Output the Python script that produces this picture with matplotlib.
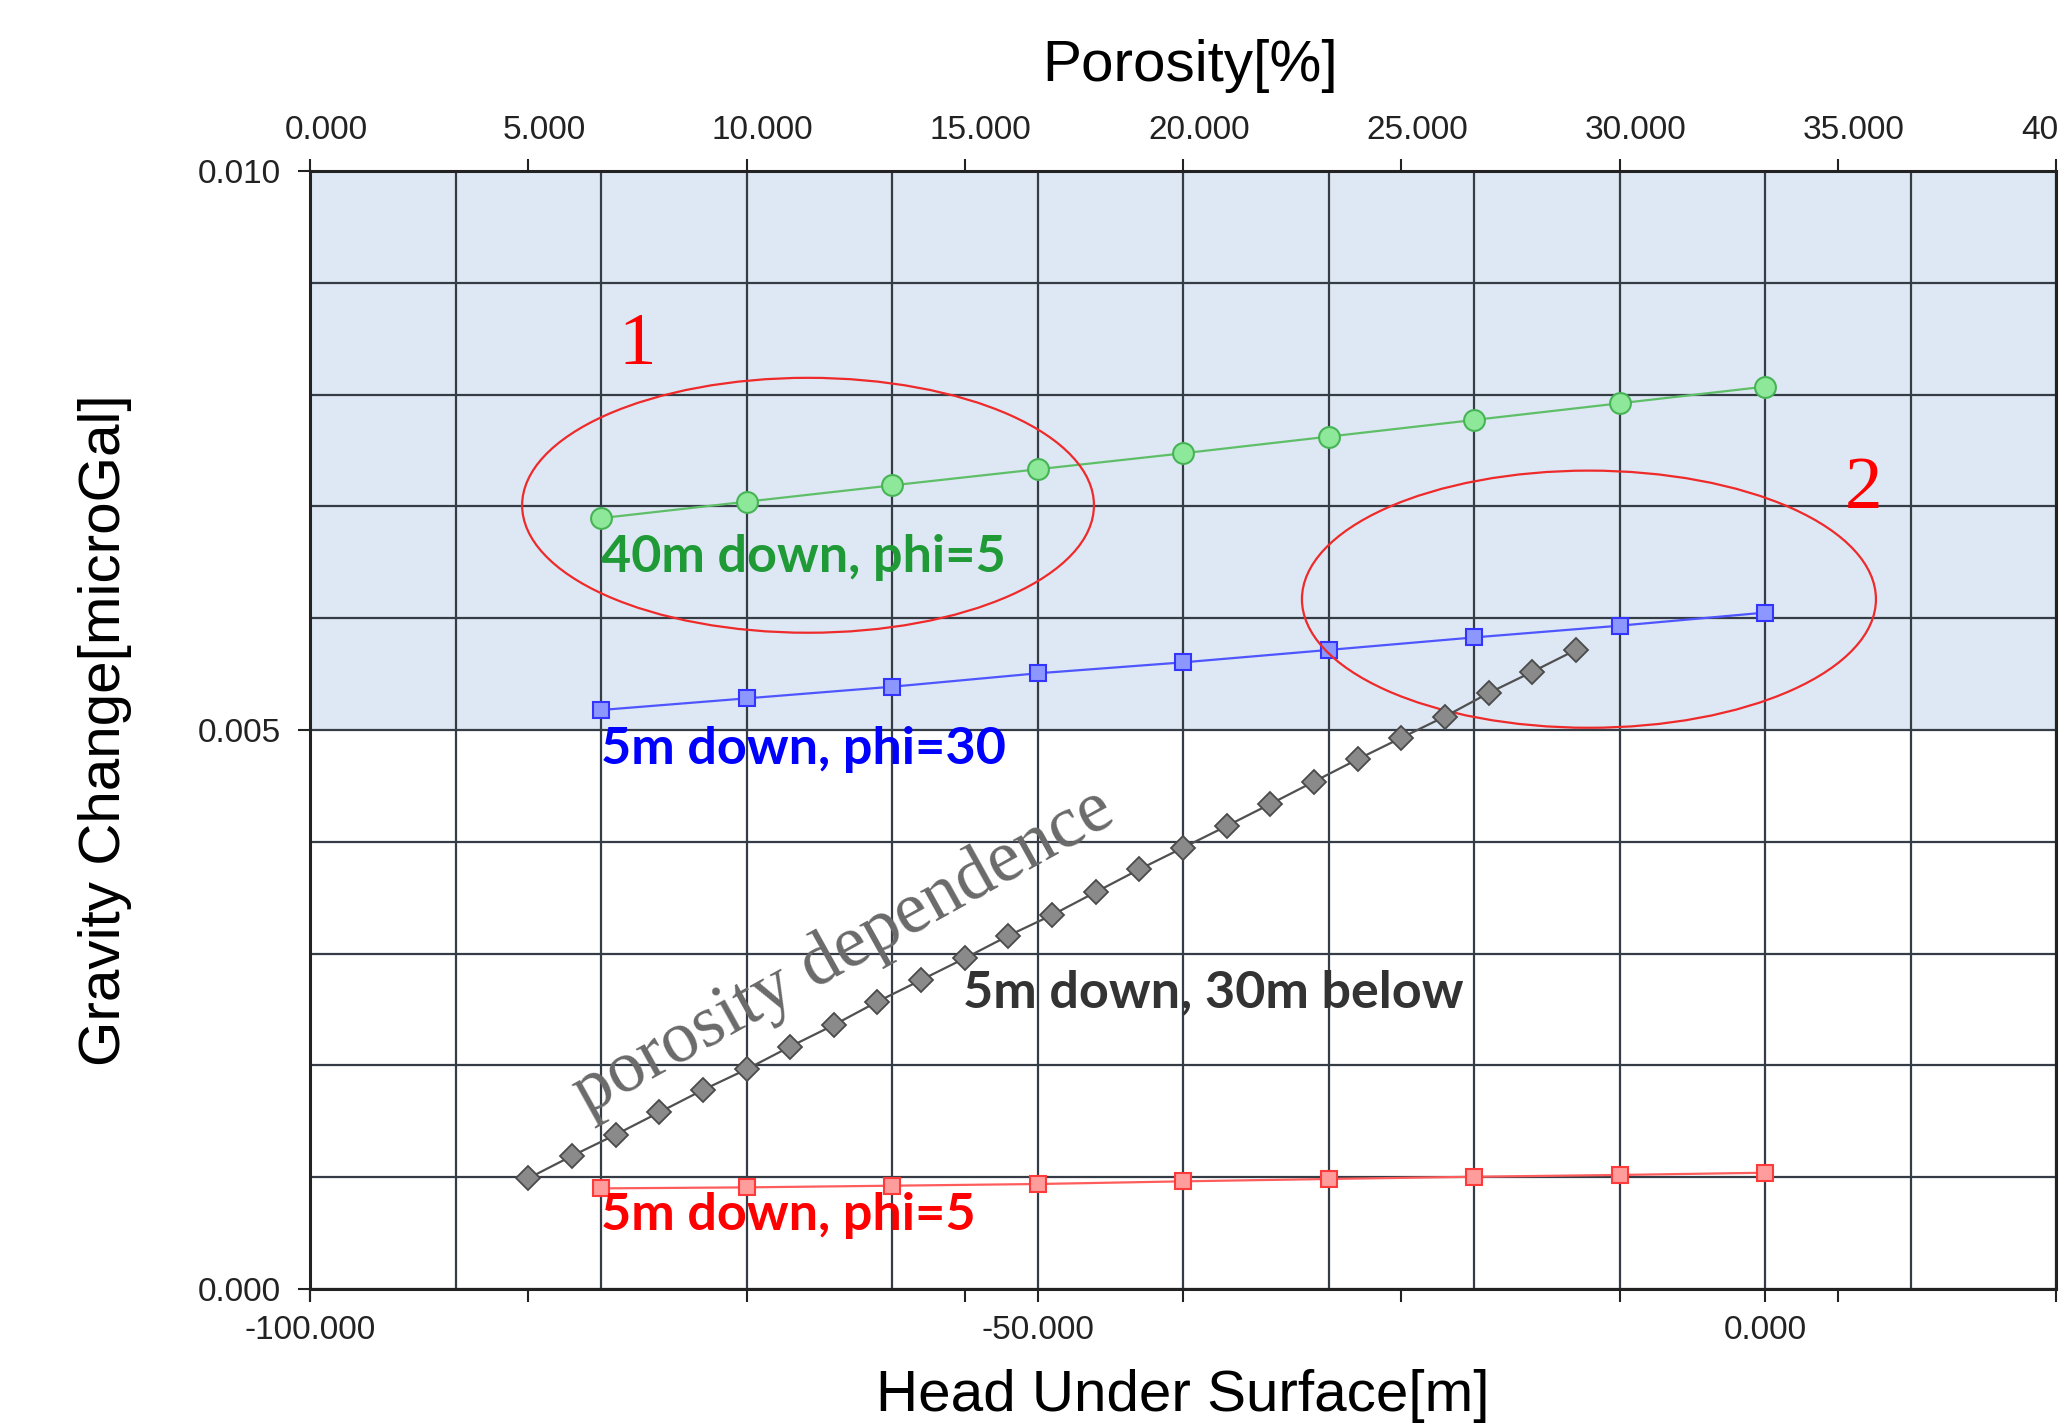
import matplotlib
matplotlib.use("Agg")
import matplotlib.pyplot as plt
import matplotlib.transforms as mtransforms
from matplotlib.patches import Ellipse
from matplotlib.ticker import MultipleLocator, FixedLocator, FormatStrFormatter

# ---------------- data ----------------
head_m = [-80, -70, -60, -50, -40, -30, -20, -10, 0]
green_40m_down_phi5 = [0.006895, 0.007042, 0.007188, 0.007332, 0.007475,
                       0.007624, 0.007773, 0.007922, 0.008071]
blue_5m_down_phi30 = [0.005179, 0.005283, 0.005387, 0.005507, 0.005605,
                      0.005716, 0.005828, 0.005933, 0.006050]
red_5m_down_phi5 = [0.000900, 0.000909, 0.000924, 0.000939, 0.000963,
                    0.000984, 0.001004, 0.001020, 0.001040]

porosity_pct = [5, 6, 7, 8, 9, 10, 11, 12, 13, 14, 15, 16, 17,
                18, 19, 20, 21, 22, 23, 24, 25, 26, 27, 28, 29]
gray_5m_down_30m_below = [0.000990, 0.001190, 0.001380, 0.001580, 0.001780,
                          0.001965, 0.002168, 0.002361, 0.002570, 0.002764,
                          0.002958, 0.003160, 0.003345, 0.003550, 0.003754,
                          0.003947, 0.004141, 0.004338, 0.004538, 0.004738,
                          0.004930, 0.005120, 0.005330, 0.005520, 0.005716]

head_ticks = [-100, -50, 0]
porosity_ticks = [0, 5, 10, 15, 20, 25, 30, 35, 40]
gravity_ticks = [0.000, 0.005, 0.010]

# ---------------- style ----------------
plt.rcParams["font.family"] = ["Liberation Sans", "DejaVu Sans"]
plt.rcParams["axes.unicode_minus"] = False

GRID = "#363c46"
TICKFS = 24
LABELFS = 42

fig = plt.figure(figsize=(20.61, 14.26), dpi=100)
ax = fig.add_axes([310 / 2061, 1 - 1289 / 1426, 1746 / 2061, 1118 / 1426])

ax.set_xlim(-100, 20)
ax.set_ylim(0.0, 0.010)

# shaded upper half
ax.axhspan(0.005, 0.010, color="#dde8f4", zorder=0.2, lw=0)

# ticks / grid on head axis
ax.xaxis.set_major_locator(FixedLocator(head_ticks))
ax.xaxis.set_minor_locator(MultipleLocator(10))
ax.xaxis.set_major_formatter(FormatStrFormatter("%.3f"))
ax.yaxis.set_major_locator(FixedLocator(gravity_ticks))
ax.yaxis.set_minor_locator(MultipleLocator(0.001))
ax.yaxis.set_major_formatter(FormatStrFormatter("%.3f"))
ax.set_axisbelow(True)
ax.grid(True, which="both", color=GRID, lw=1.6, zorder=0.5)
ax.tick_params(axis="x", which="major", direction="out", length=9, width=1.5,
               top=True, bottom=True, labeltop=False, labelbottom=True,
               labelsize=TICKFS, pad=10, colors="#222222")
ax.tick_params(axis="y", which="major", direction="out", length=9, width=1.5,
               left=True, right=False, labelsize=TICKFS, pad=12, colors="#222222")
ax.tick_params(which="minor", length=0)
for s in ax.spines.values():
    s.set_color("#222222")
    s.set_linewidth(2.2)

# series on head axis
ax.plot(head_m, green_40m_down_phi5, color="#5fbf68", lw=1.6, marker="o",
        ms=15, mfc="#8ee89a", mec="#46b455", mew=1.5, zorder=3)
ax.plot(head_m, blue_5m_down_phi30, color="#4f55ff", lw=1.6, marker="s",
        ms=11, mfc="#8c98ff", mec="#3434ff", mew=1.5, zorder=3)
ax.plot(head_m, red_5m_down_phi5, color="#ff5c5c", lw=1.6, marker="s",
        ms=11, mfc="#ff9c9c", mec="#ff3a3a", mew=1.5, zorder=3)

# series labels
lab_kw = dict(fontfamily=["Lato", "DejaVu Sans"], fontweight="bold",
              fontsize=37.5, ha="left", va="center", zorder=4)
ax.text(-80, 0.00654, "40m down, phi=5", color="#1f9a36", **lab_kw)
ax.text(-80, 0.00483, "5m down, phi=30", color="#0000ff", **lab_kw)
ax.text(-80, 0.000653, "5m down, phi=5", color="#ff0000", **lab_kw)
ax.text(-55.1, 0.002647, "5m down, 30m below", color="#333333", **lab_kw)

# annotations
ax.add_patch(Ellipse((-65.77, 0.00701), 39.3, 0.00228, fill=False,
                     ec="#ee2a2a", lw=1.6, zorder=5))
ax.add_patch(Ellipse((-12.1, 0.00617), 39.45, 0.00230, fill=False,
                     ec="#ee2a2a", lw=1.6, zorder=5))
ax.text(-77.5, 0.00843, "1", color="#ff0000", fontsize=54,
        fontfamily=["Liberation Serif", "DejaVu Serif"], ha="center", va="center")
ax.text(6.8, 0.00714, "2", color="#ff0000", fontsize=54,
        fontfamily=["Liberation Serif", "DejaVu Serif"], ha="center", va="center")
ax.text(-63.3, 0.00301, "porosity dependence", color="#6a6a6a", fontsize=53,
        fontfamily=["Liberation Serif", "DejaVu Serif"], rotation=29,
        rotation_mode="anchor", ha="center", va="center", zorder=4)

# porosity axis (top)
ax2 = ax.twiny()
ax2.set_xlim(0, 40)
ax2.xaxis.set_major_locator(FixedLocator(porosity_ticks))
ax2.xaxis.set_major_formatter(FormatStrFormatter("%.3f"))
ax2.tick_params(axis="x", direction="out", length=9, width=1.5,
                top=True, bottom=True, labeltop=True, labelbottom=False,
                labelsize=TICKFS, pad=9, colors="#222222")
for s in ax2.spines.values():
    s.set_visible(False)
ax2.plot(porosity_pct, gray_5m_down_30m_below, color="#505050", lw=1.6,
         marker="D", ms=12, mfc="#8a8a8a", mec="#4a4a4a", mew=1.3, zorder=3)

# shift top tick labels slightly right, as in the reference
offset = mtransforms.ScaledTranslation(16 / 100, 0, fig.dpi_scale_trans)
for lbl in ax2.get_xticklabels():
    lbl.set_transform(lbl.get_transform() + offset)

# axis labels
ax.set_xlabel("Head Under Surface[m]", fontsize=LABELFS, va="center")
ax.xaxis.set_label_coords(0.5, -0.0957)
ax.set_ylabel("Gravity Change[microGal]", fontsize=LABELFS, va="center")
ax.yaxis.set_label_coords(-0.1174, 0.5)
ax2.set_xlabel("Porosity[%]", fontsize=LABELFS, va="center")
ax2.xaxis.set_label_coords(0.504, 1.094)

fig.savefig("out.png", dpi=100)
